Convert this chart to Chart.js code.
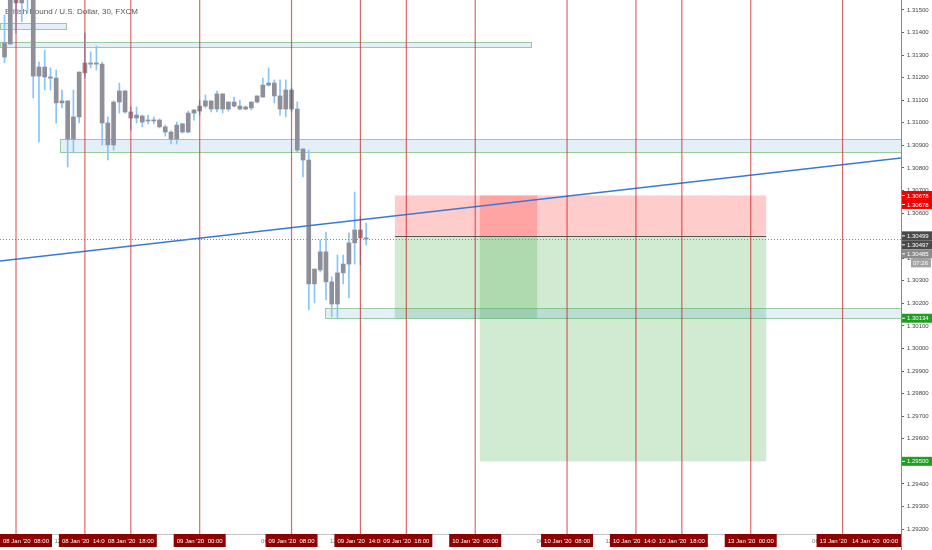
<!DOCTYPE html>
<html>
<head>
<meta charset="utf-8">
<script src="https://cdn.jsdelivr.net/npm/chart.js@4"></script>
<style>
  html, body { margin: 0; padding: 0; background: #fff; }
  #wrap { width: 932px; height: 550px; }
</style>
</head>
<body>
<div id="wrap"><canvas id="chart" width="932" height="550"></canvas></div>
<script>
// ======= Data =======
// x unit = one 30 min bar, 0 = 08 Jan '20 08:00
const TITLE = "British Pound / U.S. Dollar, 30, FXCM";
const firstBar = -2;

const opens = [
  1.31291, 1.31349, 1.31557, 1.31531, 1.31562, 1.31571, 1.31207, 1.31247, 1.31203, 1.31198,
  1.31088, 1.31097, 1.30928, 1.31026, 1.31221, 1.31265, 1.31260, 1.31260, 1.30999, 1.30902,
  1.31092, 1.31141, 1.31048, 1.31021, 1.31030, 1.31008, 1.31012, 1.31012, 1.30982, 1.30959,
  1.30928, 1.30959, 1.30959, 1.31043, 1.31052, 1.31074, 1.31097, 1.31061, 1.31128, 1.31061,
  1.31092, 1.31074, 1.31061, 1.31066, 1.31092, 1.31114, 1.31167, 1.31176, 1.31119, 1.31061,
  1.31145, 1.31061, 1.30884, 1.30835, 1.30286, 1.30348, 1.30428, 1.30295, 1.30197, 1.30335,
  1.30374, 1.30468, 1.30525, 1.30490
];
const highs = [
  1.31478, 1.31588, 1.31579, 1.31571, 1.31606, 1.31579, 1.31269, 1.31322, 1.31243, 1.31234,
  1.31145, 1.31097, 1.31145, 1.31225, 1.31398, 1.31314, 1.31340, 1.31269, 1.31026, 1.31097,
  1.31176, 1.31145, 1.31070, 1.31070, 1.31034, 1.31034, 1.31026, 1.31017, 1.30990, 1.30964,
  1.31003, 1.30999, 1.31052, 1.31057, 1.31101, 1.31123, 1.31097, 1.31141, 1.31128, 1.31092,
  1.31114, 1.31101, 1.31074, 1.31092, 1.31119, 1.31198, 1.31243, 1.31190, 1.31190, 1.31190,
  1.31154, 1.31092, 1.30884, 1.30879, 1.30352, 1.30481, 1.30516, 1.30317, 1.30414, 1.30414,
  1.30512, 1.30693, 1.30583, 1.30556
];
const lows = [
  1.31265, 1.31349, 1.31398, 1.31447, 1.31486, 1.31110, 1.30915, 1.31145, 1.31145, 1.30999,
  1.31066, 1.30804, 1.30866, 1.30999, 1.31198, 1.31243, 1.31234, 1.30902, 1.30835, 1.30879,
  1.31043, 1.31043, 1.30968, 1.30999, 1.30982, 1.30995, 1.30995, 1.30977, 1.30941, 1.30906,
  1.30906, 1.30955, 1.30955, 1.31012, 1.31034, 1.31066, 1.31048, 1.31048, 1.31043, 1.31052,
  1.31070, 1.31057, 1.31057, 1.31057, 1.31088, 1.31114, 1.31163, 1.31088, 1.31034, 1.31026,
  1.31048, 1.30871, 1.30760, 1.30171, 1.30202, 1.30339, 1.30215, 1.30140, 1.30131, 1.30286,
  1.30224, 1.30374, 1.30370, 1.30459
];
const closes = [
  1.31354, 1.31571, 1.31531, 1.31557, 1.31588, 1.31207, 1.31247, 1.31203, 1.31198, 1.31088,
  1.31097, 1.30928, 1.31026, 1.31225, 1.31265, 1.31260, 1.31265, 1.30999, 1.30902, 1.31092,
  1.31141, 1.31048, 1.31021, 1.31034, 1.31003, 1.31012, 1.31008, 1.30982, 1.30959, 1.30928,
  1.30990, 1.30995, 1.31043, 1.31057, 1.31074, 1.31097, 1.31061, 1.31128, 1.31061, 1.31092,
  1.31074, 1.31061, 1.31070, 1.31092, 1.31119, 1.31167, 1.31176, 1.31119, 1.31061, 1.31145,
  1.31061, 1.30879, 1.30835, 1.30286, 1.30352, 1.30428, 1.30295, 1.30197, 1.30335, 1.30374,
  1.30468, 1.30525, 1.30490, 1.30485
];

// visible range
const xMin = -2.79, xMax = 154.18;
const yMin = 1.29178, yMax = 1.31544;

// price axis ticks
const priceTicks = [
  1.292, 1.293, 1.294, 1.295, 1.296, 1.297, 1.298, 1.299, 1.300, 1.301, 1.302, 1.303,
  1.304, 1.305, 1.306, 1.307, 1.308, 1.309, 1.310, 1.311, 1.312, 1.313, 1.314, 1.315
];
// regular time ticks (mostly hidden behind the line labels)
const timeTicks = [8, 20, 32, 44, 56, 68, 80, 92, 104, 116, 128, 140, 152];
const timeTickLabels = ["12:00", "18:00", "9", "06:00", "12:00", "18:00", "10", "06:00", "12:00", "18:00", "13", "06:00", "12:00"];

// vertical lines + their labels
const vLines = [0, 12, 20, 32, 48, 60, 68, 80, 96, 108, 116, 128, 144, 176];
const vDates = ["08 Jan '20", "08 Jan '20", "08 Jan '20", "09 Jan '20", "09 Jan '20", "09 Jan '20", "09 Jan '20",
                "10 Jan '20", "10 Jan '20", "10 Jan '20", "10 Jan '20", "13 Jan '20", "13 Jan '20", "14 Jan '20"];
const vTimes = ["08:00", "14:00", "18:00", "00:00", "08:00", "14:00", "18:00",
                "00:00", "08:00", "14:00", "18:00", "00:00", "08:00", "00:00"];

// horizontal zones
const zoneFrom = [-2.79, -2.79, 7.67, 53.83];
const zoneTo = [8.71, 89.72, 160, 160];
const zoneTop = [1.31442, 1.31358, 1.30928, 1.30180];
const zoneBottom = [1.31416, 1.31336, 1.30871, 1.30135];

// trend line
const trendX = [-2.79, 154.18];
const trendY = [1.30388, 1.30844];

// short positions
const posFrom = [66.0, 80.8];
const posTo = [90.8, 130.7];
const posEntry = [1.30499, 1.30497];
const posStop = [1.30678, 1.30678];
const posTarget = [1.30134, 1.29500];

const lastPrice = 1.30485;
const countdown = "07:26";

// price scale labels
const labelPrices = [1.30678, 1.30678, 1.30499, 1.30497, 1.30485, 1.30134, 1.29500];
const labelColors = ["#f00000", "#f00000", "#4a4a4a", "#4a4a4a", "#8c8c8c", "#1f9e22", "#1f9e22"];

// ======= Plugins =======
const FONT = "'Liberation Sans', Arial, sans-serif";

const background = {
  id: "background",
  beforeDraw(chart) {
    const ctx = chart.ctx;
    ctx.save();
    ctx.fillStyle = "#fff";
    ctx.fillRect(0, 0, chart.width, chart.height);
    ctx.restore();
  }
};

const underlay = {
  id: "underlay",
  beforeDatasetsDraw(chart) {
    const { ctx, chartArea: a, scales: { x, y } } = chart;
    ctx.save();
    ctx.beginPath();
    ctx.rect(a.left, a.top, a.right - a.left, a.bottom - a.top);
    ctx.clip();

    // title
    ctx.font = "8px " + FONT;
    ctx.fillStyle = "#555";
    ctx.textBaseline = "alphabetic";
    ctx.fillText(TITLE, 5, 14);

    // positions: stop (red) and target (green)
    posFrom.forEach((f, i) => {
      const x0 = x.getPixelForValue(f), x1 = x.getPixelForValue(posTo[i]);
      const ye = y.getPixelForValue(posEntry[i]);
      const ys = y.getPixelForValue(posStop[i]);
      const yt = y.getPixelForValue(posTarget[i]);
      ctx.fillStyle = "rgba(255,0,0,0.2)";
      ctx.fillRect(x0, ys, x1 - x0, ye - ys);
      ctx.fillStyle = "rgba(76,175,80,0.26)";
      ctx.fillRect(x0, ye, x1 - x0, yt - ye);
    });

    // zones
    zoneFrom.forEach((f, i) => {
      const x0 = Math.round(x.getPixelForValue(f)) + 0.5, x1 = Math.round(x.getPixelForValue(zoneTo[i])) + 0.5;
      const y0 = Math.round(y.getPixelForValue(zoneTop[i])) + 0.5, y1 = Math.round(y.getPixelForValue(zoneBottom[i])) + 0.5;
      ctx.fillStyle = "rgba(30,120,210,0.12)";
      ctx.fillRect(x0, y0, x1 - x0, y1 - y0);
      ctx.strokeStyle = "rgba(90,175,90,0.6)";
      ctx.lineWidth = 1;
      ctx.strokeRect(x0, y0, x1 - x0, y1 - y0);
    });
    ctx.restore();
  }
};

const overlay = {
  id: "overlay",
  afterDatasetsDraw(chart) {
    const { ctx, chartArea: a, scales: { x, y } } = chart;
    ctx.save();
    ctx.beginPath();
    ctx.rect(a.left, a.top, a.right - a.left, a.bottom - a.top);
    ctx.clip();

    // entry lines
    ctx.strokeStyle = "#555";
    ctx.lineWidth = 1;
    posFrom.forEach((f, i) => {
      const yy = Math.round(y.getPixelForValue(posEntry[i])) + 0.5;
      ctx.beginPath();
      ctx.moveTo(x.getPixelForValue(f), yy);
      ctx.lineTo(x.getPixelForValue(posTo[i]), yy);
      ctx.stroke();
    });

    // current price line
    const yl = Math.round(y.getPixelForValue(lastPrice)) + 0.5;
    ctx.strokeStyle = "#888";
    ctx.setLineDash([1, 2]);
    ctx.beginPath();
    ctx.moveTo(a.left, yl);
    ctx.lineTo(a.right, yl);
    ctx.stroke();
    ctx.setLineDash([]);

    // vertical lines
    ctx.strokeStyle = "rgba(200,25,25,0.65)";
    ctx.lineWidth = 1.2;
    vLines.forEach(v => {
      const xx = x.getPixelForValue(v);
      ctx.beginPath();
      ctx.moveTo(xx, a.top);
      ctx.lineTo(xx, a.bottom);
      ctx.stroke();
    });
    ctx.restore();
  },
  afterDraw(chart) {
    const { ctx, chartArea: a, scales: { x, y } } = chart;
    ctx.save();
    ctx.font = "6px " + FONT;
    ctx.textBaseline = "middle";

    // axis line continues under the price scale
    ctx.strokeStyle = "#888";
    ctx.lineWidth = 1;
    ctx.beginPath();
    ctx.moveTo(a.right + 0.5, a.bottom);
    ctx.lineTo(a.right + 0.5, chart.height);
    ctx.stroke();

    // time labels of vertical lines
    const bw = 52, bh = 13, by = a.bottom;
    vLines.forEach((v, i) => {
      const cx = x.getPixelForValue(v);
      const bx = Math.min(Math.max(cx - bw / 2, a.left), a.right - bw);
      ctx.fillStyle = "#8f0000";
      ctx.fillRect(bx, by, bw, bh);
      ctx.fillStyle = "#fff";
      ctx.textAlign = "left";
      ctx.fillText(vDates[i], bx + 3, by + bh / 2 + 0.5);
      ctx.textAlign = "right";
      ctx.fillText(vTimes[i], bx + bw - 3, by + bh / 2 + 0.5);
    });

    // price labels, stacked so they do not overlap
    const lh = 9;
    let prevBottom = -Infinity;
    labelPrices.forEach((p, i) => {
      let top = y.getPixelForValue(p) - lh / 2;
      if (top < prevBottom) top = prevBottom;
      prevBottom = top + lh;
      ctx.fillStyle = labelColors[i];
      ctx.fillRect(a.right + 1, top, chart.width - a.right - 1, lh);
      ctx.fillStyle = "#fff";
      ctx.fillRect(a.right + 1, top + lh / 2 - 0.5, 3, 1);
      ctx.textAlign = "left";
      ctx.fillText(p.toFixed(5), a.right + 6, top + lh / 2 + 0.5);
      if (p === lastPrice) {
        ctx.fillStyle = "#a3a3a3";
        ctx.fillRect(a.right + 10, top + lh, 20, lh);
        ctx.fillStyle = "#fff";
        ctx.fillText(countdown, a.right + 12, top + lh * 1.5 + 0.5);
        prevBottom += lh;
      }
    });
    ctx.restore();
  }
};

// ======= Chart =======
const bars = opens.map((o, i) => firstBar + i);
const wickData = bars.map((b, i) => ({ x: b, y: [lows[i], highs[i]] }));
const bodyData = bars.map((b, i) => ({ x: b, y: [Math.min(opens[i], closes[i]), Math.max(opens[i], closes[i])] }));
const trendData = trendX.map((v, i) => ({ x: v, y: trendY[i] }));

new Chart(document.getElementById("chart"), {
  type: "bar",
  data: {
    datasets: [
      { type: "bar", data: wickData, backgroundColor: "#86c5f7", barThickness: 1, grouped: false, order: 3 },
      { type: "bar", data: bodyData, backgroundColor: "#8e8f98", barThickness: 4, minBarLength: 1, grouped: false, order: 2 },
      { type: "line", data: trendData, borderColor: "#3a78d6", borderWidth: 1.5, pointRadius: 0, order: 1 }
    ]
  },
  options: {
    responsive: false,
    animation: false,
    devicePixelRatio: 1,
    events: [],
    layout: { padding: 0 },
    plugins: { legend: { display: false }, tooltip: { enabled: false } },
    scales: {
      x: {
        type: "linear", min: xMin, max: xMax, offset: false,
        afterFit: s => { s.height = 16; s.paddingLeft = 0; s.paddingRight = 0; },
        afterBuildTicks: s => { s.ticks = timeTicks.map(v => ({ value: v })); },
        ticks: {
          callback: (v, i) => timeTickLabels[i],
          autoSkip: false, maxRotation: 0, padding: 4,
          font: { size: 6, family: FONT }, color: "#777"
        },
        grid: { display: false, drawTicks: false },
        border: { display: true, color: "#c4c4c4" }
      },
      y: {
        type: "linear", position: "right", min: yMin, max: yMax,
        afterFit: s => { s.width = 31; s.paddingTop = 0; s.paddingBottom = 0; },
        afterBuildTicks: s => { s.ticks = priceTicks.map(v => ({ value: v })); },
        ticks: {
          callback: v => v.toFixed(5),
          padding: 3,
          font: { size: 6, family: FONT }, color: "#444"
        },
        grid: { drawOnChartArea: false, drawTicks: true, tickLength: 3, color: "#666" },
        border: { display: true, color: "#888" }
      }
    }
  },
  plugins: [background, underlay, overlay]
});
</script>
</body>
</html>
